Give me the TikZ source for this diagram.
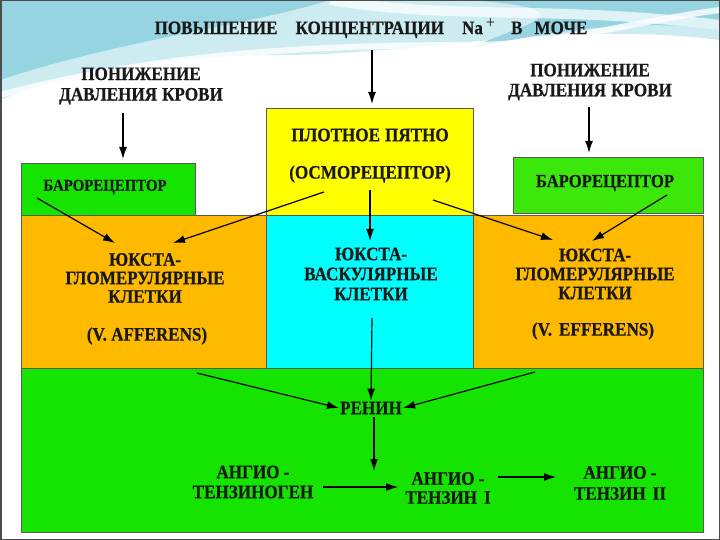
\documentclass[tikz,border=0pt]{standalone}
\usepackage{fontspec}
\setmainfont{Liberation Serif}[FakeStretch=0.9, BoldFeatures={FakeBold=0.6}]
\usetikzlibrary{arrows.meta}
\definecolor{bgteal}{RGB}{150,212,226}
\definecolor{bglight}{RGB}{205,236,242}
\definecolor{gbox}{RGB}{20,228,0}
\definecolor{gboxb}{RGB}{60,232,10}
\definecolor{obox}{RGB}{255,186,0}
\definecolor{cbox}{RGB}{0,255,255}
\definecolor{ybox}{RGB}{255,255,0}
\tikzset{
  box/.style={draw=black!65, line width=0.8pt, inner sep=0pt, outer sep=0pt, anchor=north west},
  txt/.style={font=\bfseries\fontsize{19}{19}\selectfont, align=center, inner sep=1pt, text=black!90},
  arr/.style={-{Latex[length=12pt,width=8pt]}, line width=1.2pt, black}
}
\begin{document}
\begin{tikzpicture}[x=1pt,y=-1pt]
\useasboundingbox (0,0) rectangle (720,540);
% background decoration
\fill[bglight] (0,0) -- (720,0) -- (720,40) .. controls (560,20) and (420,55) .. (280,55) .. controls (160,55) and (60,75) .. (0,100) -- cycle;
\fill[bgteal] (0,0) -- (330,0) .. controls (250,25) and (120,40) .. (0,80) -- cycle;
\fill[bgteal] (470,0) -- (720,0) -- (720,30) .. controls (640,18) and (560,30) .. (470,48) .. controls (520,25) and (600,10) .. (470,0) -- cycle;
\draw[white, line width=6pt, opacity=0.8] (0,95) .. controls (150,55) and (300,45) .. (470,45) .. controls (560,45) and (640,20) .. (720,10);
\draw[white, line width=10pt, opacity=0.7] (330,0) .. controls (450,20) and (550,5) .. (720,25);
\draw[black!70, line width=1.5pt] (0.75,0.75) rectangle (719.25,539.25);

% boxes
\node[box, fill=gbox, minimum width=682pt, minimum height=164pt] (bottom) at (21,368) {};
\node[box, fill=obox, minimum width=245pt, minimum height=153pt] (lorange) at (21,215) {};
\node[box, fill=cbox, minimum width=207pt, minimum height=153pt] (cyanbox) at (266,215) {};
\node[box, fill=obox, minimum width=230pt, minimum height=153pt] (rorange) at (473,215) {};
\node[box, fill=gbox, minimum width=174pt, minimum height=52pt] (lbaro) at (21,163) {};
\node[box, fill=ybox, minimum width=207pt, minimum height=107pt] (spotbox) at (266,108) {};
\node[box, fill=gboxb, minimum width=190pt, minimum height=56pt] (rbaro) at (513,157) {};

% texts
\node[txt] (title) at (371,28) {ПОВЫШЕНИЕ\hspace{18pt}КОНЦЕНТРАЦИИ\hspace{18pt}Na\hspace{3pt}\raisebox{6pt}{\mdseries\fontsize{18}{18}\selectfont +}\hspace{16pt}В\hspace{12pt}МОЧЕ};
\node[txt, font=\bfseries\fontsize{19}{20.5}\selectfont] (lpress) at (141,86) {ПОНИЖЕНИЕ\\ДАВЛЕНИЯ\hspace{5pt}КРОВИ};
\node[txt, font=\bfseries\fontsize{19}{20}\selectfont] (rpress) at (590,82) {ПОНИЖЕНИЕ\\ДАВЛЕНИЯ\hspace{5pt}КРОВИ};
\node[txt, font=\bfseries\fontsize{16.5}{17}\selectfont] (lbarotxt) at (105,187) {БАРОРЕЦЕПТОР};
\node[txt, font=\bfseries\fontsize{18.5}{19}\selectfont] (rbarotxt) at (605,183) {БАРОРЕЦЕПТОР};
\node[txt] (spot1) at (370,135) {ПЛОТНОЕ\hspace{5pt}ПЯТНО};
\node[txt] (spot2) at (370,174) {(ОСМОРЕЦЕПТОР)};
\node[txt, font=\bfseries\fontsize{19}{18.5}\selectfont] (jgl) at (145,278) {ЮКСТА-\\ГЛОМЕРУЛЯРНЫЕ\\КЛЕТКИ};
\node[txt] (aff) at (147,336) {(V.\ AFFERENS)};
\node[txt, font=\bfseries\fontsize{19}{20}\selectfont] (jgv) at (371,274) {ЮКСТА-\\ВАСКУЛЯРНЫЕ\\КЛЕТКИ};
\node[txt, font=\bfseries\fontsize{19}{19}\selectfont] (jgr) at (595,274) {ЮКСТА-\\ГЛОМЕРУЛЯРНЫЕ\\КЛЕТКИ};
\node[txt] (eff) at (593,331) {(V.\hspace{7pt}EFFERENS)};
\node[txt] (renin) at (371,408) {РЕНИН};
\node[txt, font=\bfseries\fontsize{19}{20}\selectfont] (ango) at (253,482) {АНГИО -\\ТЕНЗИНОГЕН};
\node[txt, font=\bfseries\fontsize{19}{19}\selectfont] (ang1) at (448,488) {АНГИО -\\ТЕНЗИН\hspace{7pt}I};
\node[txt, font=\bfseries\fontsize{19}{21}\selectfont] (ang2) at (620,483) {АНГИО -\\ТЕНЗИН\hspace{7pt}II};

% arrow end points
\coordinate (t1) at (372,50);   \coordinate (t2) at (372,104);
\coordinate (lp1) at (123,113); \coordinate (lp2) at (123,159);
\coordinate (rp1) at (589,107); \coordinate (rp2) at (589,153);
\coordinate (lb1) at (37,198);  \coordinate (lj1) at (115,243);
\coordinate (sp1) at (324,192); \coordinate (lj2) at (173,243);
\coordinate (sp2) at (370,190); \coordinate (vj1) at (370,241);
\coordinate (sp3) at (433,200); \coordinate (rj1) at (553,240);
\coordinate (rb1) at (667,195); \coordinate (rj2) at (592,241);
\coordinate (vj2) at (372,318);
\coordinate (lj3) at (197,373);
\coordinate (rj3) at (535,372);
\coordinate (re2) at (374,471);
\coordinate (a1r) at (498,477); \coordinate (a2l) at (556,477);

\draw[arr] (t1) -- (t2);
\draw[arr] (lp1) -- (lp2);
\draw[arr] (rp1) -- (rp2);
\draw[arr] (lb1) -- (lj1);
\draw[arr] (sp1) -- (lj2);
\draw[arr] (sp2) -- (vj1);
\draw[arr] (sp3) -- (rj1);
\draw[arr] (rb1) -- (rj2);
\draw[arr] (vj2) -- (renin.north);
\draw[arr] (lj3) -- (renin.west);
\draw[arr] (rj3) -- (renin.east);
\draw[arr, shorten <=2pt] (renin.south -| re2) -- (re2);
\draw[arr, shorten <=8pt, shorten >=6pt] (ango.east |- 0,487) -- (ang1.west |- 0,487);
\draw[arr] (a1r) -- (a2l);
\end{tikzpicture}
\end{document}
